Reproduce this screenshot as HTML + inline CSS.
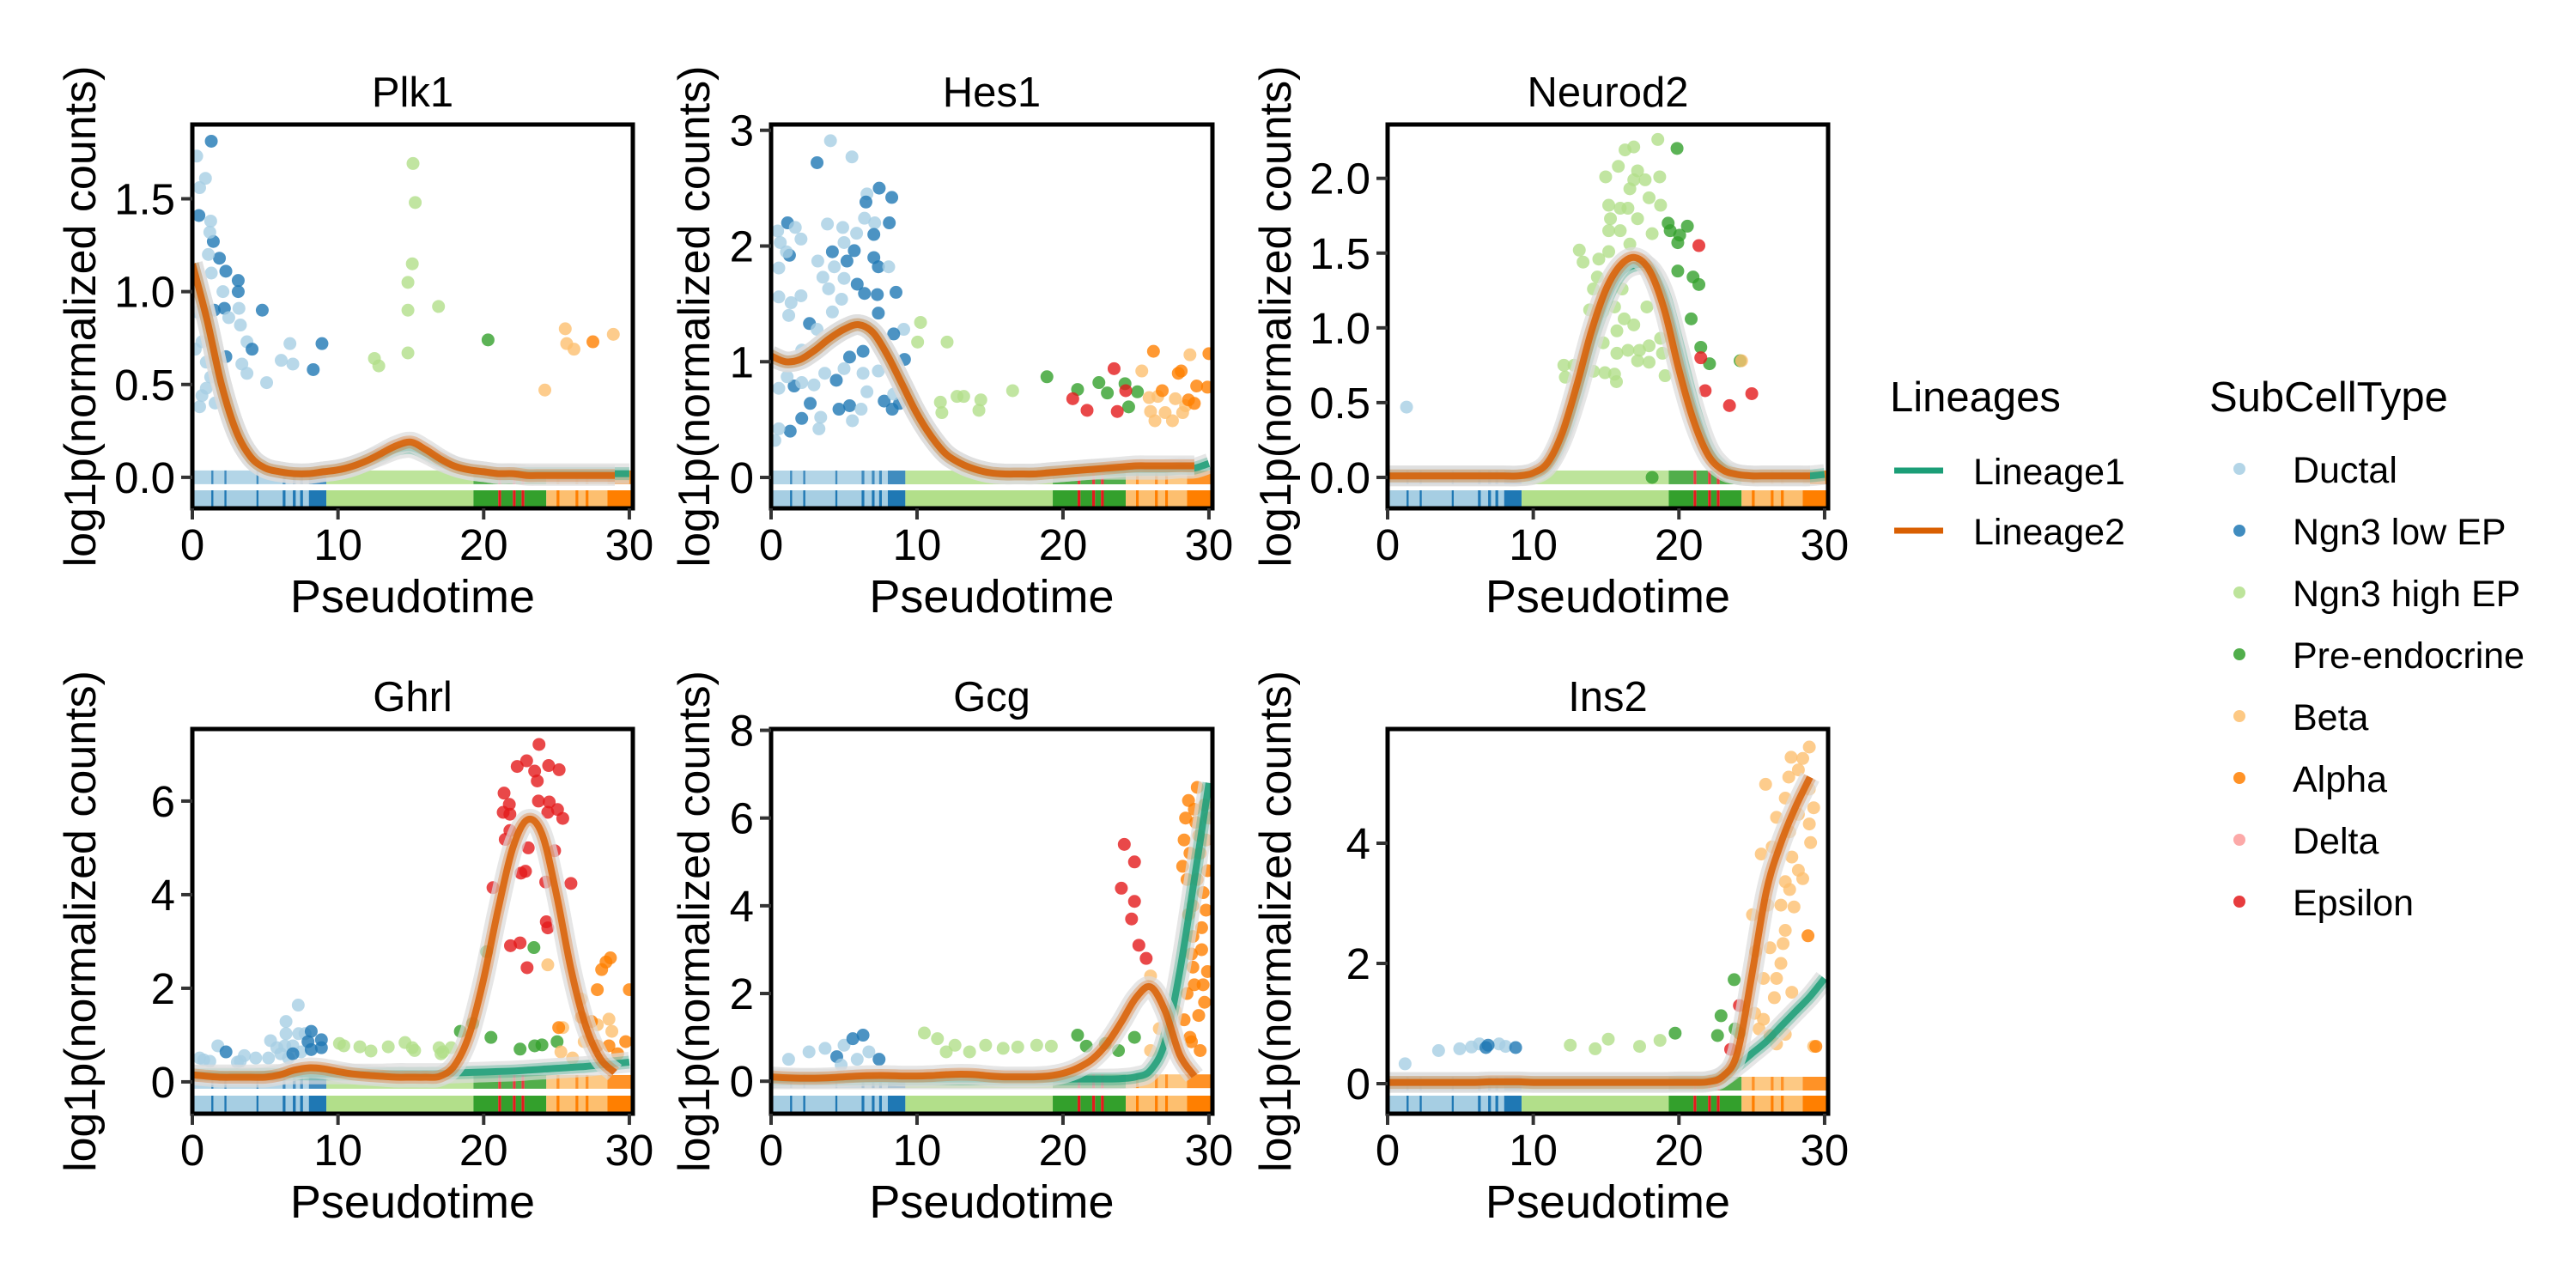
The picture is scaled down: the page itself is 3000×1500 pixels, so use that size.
<!DOCTYPE html>
<html><head><meta charset="utf-8"><style>
html,body{margin:0;padding:0;background:#fff;}
svg{display:block;font-family:"Liberation Sans",Arial,sans-serif;}
</style></head><body>
<svg id="chart" width="3000" height="1500" viewBox="0 0 3000 1500" xmlns="http://www.w3.org/2000/svg">
<rect x="0" y="0" width="3000" height="1500" fill="#fff"/>
<g id="panels"></g>
<g id="legend">
  <text x="2201" y="479" font-size="49">Lineages</text>
  <line x1="2206" x2="2263" y1="548" y2="548" stroke="#1b9e77" stroke-width="7"/>
  <text x="2298" y="564" font-size="43">Lineage1</text>
  <line x1="2206" x2="2263" y1="618" y2="618" stroke="#d95f02" stroke-width="7"/>
  <text x="2298" y="634" font-size="43">Lineage2</text>
  <text x="2573" y="479" font-size="49">SubCellType</text>
  <g id="typeLegend"></g>
</g>
</svg>
<script>
const typeNames = ["Ductal","Ngn3 low EP","Ngn3 high EP","Pre-endocrine","Beta","Alpha","Delta","Epsilon"];
const typeColors = ["#a6cee3","#1f78b4","#b2df8a","#33a02c","#fdbf6f","#ff7f00","#fb9a99","#e31a1c"];
const xTicks = [0,10,20,30];
const curveT = [0,1,2,3,4,5,6,7,8,9,10,11,12,13,14,15,16,17,18,19,20,21,22,23,24,25,26,27,28,29,30];
// cell rug segments: [start, end, typeIndex]
const rugSegments = [[0,1.3,0],[1.3,1.45,1],[1.45,2.2,0],[2.2,2.35,1],[2.35,4.4,0],[4.4,4.55,1],[4.55,6.2,0],[6.2,6.4,1],[6.4,6.9,0],[6.9,7.1,1],[7.1,7.4,0],[7.4,7.6,1],[7.6,8.0,0],[8.0,9.2,1],[9.2,19.3,2],[19.3,21.0,3],[21.0,21.2,7],[21.2,22.0,3],[22.0,22.2,7],[22.2,22.6,3],[22.6,22.8,7],[22.8,24.3,3],[24.3,25.0,4],[25.0,25.2,5],[25.2,26.3,4],[26.3,26.5,5],[26.5,27.0,4],[27.0,27.2,5],[27.2,28.5,4],[28.5,30.3,5]];

// ---- Plk1
const plk1Ticks = [0,0.5,1,1.5];
const plk1TickLabels = ["0.0","0.5","1.0","1.5"];
const plk1L1 = [1.15,0.85,0.5,0.25,0.11,0.05,0.03,0.02,0.02,0.03,0.04,0.06,0.09,0.12,0.15,0.16,0.13,0.09,0.06,0.04,0.03,0.02,0.02,0.02,0.02,0.02,0.02,0.02,0.02,0.02,0.02];
const plk1L2 = [1.15,0.85,0.5,0.25,0.11,0.05,0.03,0.02,0.02,0.03,0.04,0.06,0.09,0.13,0.17,0.19,0.15,0.1,0.06,0.04,0.03,0.02,0.02,0.01,0.01,0.01,0.01,0.01,0.01,0.01,0.01];
const plk1Pts = [[1.3,1.81,1],[0.3,1.73,0],[0.9,1.61,0],[0.5,1.56,0],[0.45,1.41,1],[1.26,1.38,0],[1.44,1.27,1],[1.2,1.32,0],[1.86,1.18,1],[1.1,1.2,0],[2.3,1.11,1],[1.3,1.1,0],[3.15,1.06,1],[3.15,1.0,1],[2.1,1.0,0],[1.5,0.9,1],[2.2,0.91,1],[3.2,0.91,0],[4.8,0.9,1],[2.5,0.86,0],[3.3,0.82,0],[3.75,0.73,0],[4.1,0.69,1],[6.7,0.72,0],[8.9,0.72,1],[2.3,0.65,1],[6.1,0.63,0],[6.9,0.61,0],[3.4,0.61,0],[3.75,0.56,0],[5.1,0.51,0],[8.3,0.58,1],[0.66,0.44,0],[0.96,0.48,0],[1.56,0.4,0],[0.5,0.38,0],[0.2,0.69,0],[0.66,0.73,0],[0.36,0.89,0],[0.96,0.62,0],[1.86,0.52,0],[1.26,0.54,0],[15.15,1.69,2],[15.3,1.48,2],[15.1,1.15,2],[14.8,1.05,2],[14.8,0.9,2],[16.9,0.92,2],[14.8,0.67,2],[12.5,0.64,2],[12.8,0.6,2],[20.3,0.74,3],[25.6,0.8,4],[25.7,0.72,4],[26.2,0.69,4],[28.9,0.77,4],[24.2,0.47,4],[27.5,0.73,5]];

// ---- Hes1
const hes1Ticks = [0,1,2,3];
const hes1TickLabels = ["0","1","2","3"];
const hes1L1 = [1.05,1.0,1.02,1.1,1.2,1.28,1.32,1.25,1.05,0.8,0.55,0.35,0.2,0.12,0.07,0.04,0.03,0.03,0.03,0.04,0.05,0.06,0.07,0.07,0.07,0.07,0.07,0.07,0.08,0.08,0.12];
const hes1L2 = [1.05,1.0,1.02,1.1,1.2,1.28,1.32,1.25,1.05,0.8,0.55,0.35,0.2,0.12,0.07,0.04,0.03,0.03,0.03,0.04,0.05,0.06,0.07,0.08,0.09,0.1,0.1,0.1,0.1,0.1,0.1];
const hes1Pts = [[4.07,2.91,0],[5.54,2.77,0],[3.15,2.72,1],[7.41,2.5,1],[8.27,2.42,1],[6.57,2.45,0],[6.5,2.38,1],[1.13,2.2,1],[1.66,2.16,0],[0.45,2.13,0],[2.05,2.06,0],[0.63,2.03,0],[1.26,1.92,1],[1.05,1.95,0],[8.1,2.2,1],[6.4,2.24,0],[7.1,2.2,0],[3.86,2.19,0],[4.91,2.16,0],[5.86,2.11,0],[7.04,2.1,1],[5.0,2.03,0],[4.2,1.95,1],[3.2,1.87,0],[4.33,1.82,0],[5.7,1.96,1],[7.04,1.9,1],[7.35,1.82,1],[8.06,1.82,0],[5.2,1.87,1],[0.53,1.81,0],[3.55,1.73,0],[5.0,1.72,0],[5.9,1.67,1],[8.56,1.6,1],[7.28,1.58,1],[6.4,1.59,1],[3.94,1.63,0],[2.05,1.57,0],[0.53,1.56,0],[1.37,1.51,0],[4.83,1.54,0],[1.21,1.4,0],[4.2,1.43,0],[2.63,1.33,1],[7.35,1.42,1],[9.09,1.28,0],[8.4,1.24,1],[9.14,1.02,1],[3.15,1.28,0],[6.3,1.09,1],[5.38,1.04,1],[2.1,1.1,0],[4.47,0.84,1],[1.58,0.79,1],[0.53,0.77,0],[1.1,0.87,0],[2.1,0.82,0],[2.94,0.8,0],[3.68,0.9,0],[5.0,0.94,0],[6.3,0.9,0],[7.35,0.92,0],[6.57,0.74,0],[2.68,0.64,1],[4.65,0.59,1],[5.38,0.62,1],[6.17,0.59,0],[7.75,0.66,1],[8.3,0.59,1],[8.8,0.64,1],[2.1,0.51,1],[1.31,0.4,1],[0.53,0.42,0],[3.28,0.42,0],[5.57,0.49,0],[0.26,0.32,0],[3.4,0.52,0],[8.4,0.72,0],[10.24,1.34,2],[10.04,1.17,2],[12.06,1.17,2],[16.55,0.75,2],[12.74,0.7,2],[13.2,0.7,2],[11.6,0.65,2],[11.7,0.56,2],[14.37,0.67,2],[14.24,0.58,2],[18.9,0.87,3],[21.0,0.76,3],[22.46,0.82,3],[23.04,0.73,3],[24.25,0.81,3],[25.1,0.74,3],[24.5,0.61,3],[23.5,0.94,7],[20.67,0.68,7],[21.65,0.58,7],[23.72,0.57,7],[24.3,0.75,7],[25.4,0.92,4],[28.7,1.06,4],[25.9,0.69,4],[26.5,0.7,4],[26.3,0.49,4],[27.0,0.56,4],[27.5,0.49,4],[28.2,0.56,4],[27.7,0.68,4],[26.0,0.57,4],[28.4,0.62,4],[26.2,1.09,5],[27.9,0.9,5],[28.1,0.92,5],[26.8,0.75,5],[29.16,0.79,5],[29.9,0.78,5],[30.0,1.07,5],[28.6,0.67,5],[29.0,0.64,5]];

// ---- Neurod2
const neurod2Ticks = [0,0.5,1,1.5,2];
const neurod2TickLabels = ["0.0","0.5","1.0","1.5","2.0"];
const neurod2L1 = [0.01,0.01,0.01,0.01,0.01,0.01,0.01,0.01,0.01,0.01,0.02,0.08,0.26,0.55,0.9,1.18,1.36,1.42,1.4,1.22,0.86,0.48,0.2,0.07,0.02,0.01,0.01,0.01,0.01,0.01,0.02];
const neurod2L2 = [0.01,0.01,0.01,0.01,0.01,0.01,0.01,0.01,0.01,0.01,0.03,0.1,0.3,0.62,0.98,1.26,1.42,1.47,1.38,1.12,0.72,0.38,0.15,0.05,0.02,0.01,0.01,0.01,0.01,0.01,0.01];
const neurod2Pts = [[18.55,2.26,2],[16.3,2.19,2],[16.9,2.21,2],[15.84,2.08,2],[14.97,2.01,2],[17.16,2.05,2],[18.68,2.01,2],[17.68,1.99,2],[16.63,1.93,2],[16.9,1.99,2],[17.95,1.87,2],[18.74,1.82,2],[15.18,1.82,2],[15.97,1.8,2],[16.5,1.8,2],[15.3,1.73,2],[17.16,1.73,2],[15.18,1.65,2],[15.97,1.65,2],[18.16,1.63,2],[13.16,1.52,2],[13.42,1.44,2],[15.18,1.51,2],[14.5,1.46,2],[16.63,1.56,2],[14.4,1.34,2],[14.13,1.26,2],[16.1,1.26,2],[13.87,1.12,2],[14.8,1.11,2],[15.58,1.14,2],[16.24,1.06,2],[16.9,1.02,2],[17.8,1.14,2],[15.74,0.98,2],[14.8,0.9,2],[15.74,0.83,2],[16.5,0.85,2],[17.29,0.85,2],[17.95,0.88,2],[18.74,0.93,2],[18.87,0.83,2],[17.16,0.78,2],[17.95,0.77,2],[12.1,0.75,2],[12.8,0.75,2],[12.2,0.67,2],[14.13,0.71,2],[14.92,0.7,2],[15.58,0.69,2],[15.71,0.64,2],[19.05,0.68,2],[1.3,0.47,0],[19.87,2.2,3],[19.26,1.7,3],[19.4,1.65,3],[20.58,1.68,3],[19.92,1.57,3],[20.05,1.62,3],[19.92,1.38,3],[20.97,1.34,3],[21.37,1.29,3],[20.84,1.06,3],[21.5,0.87,3],[22.1,0.76,3],[18.16,0.0,3],[21.37,1.55,7],[21.5,0.8,7],[23.47,0.48,7],[25.0,0.56,7],[21.8,0.58,7],[24.2,0.78,3],[24.3,0.78,4]];

// ---- Ghrl
const ghrlTicks = [0,2,4,6];
const ghrlTickLabels = ["0","2","4","6"];
const ghrlL1 = [0.15,0.15,0.15,0.15,0.15,0.16,0.16,0.17,0.17,0.17,0.17,0.17,0.17,0.17,0.18,0.18,0.18,0.18,0.19,0.2,0.21,0.22,0.23,0.25,0.27,0.29,0.31,0.33,0.36,0.39,0.42];
const ghrlL2 = [0.15,0.12,0.1,0.1,0.1,0.1,0.15,0.25,0.3,0.28,0.22,0.17,0.14,0.12,0.1,0.1,0.1,0.12,0.35,1.0,2.2,3.7,5.0,5.6,5.3,4.0,2.4,1.2,0.5,0.2,0.1];
const ghrlPts = [[23.8,7.21,7],[22.3,6.74,7],[22.95,6.86,7],[23.5,6.64,7],[24.46,6.76,7],[25.18,6.67,7],[23.68,6.43,7],[21.4,6.17,7],[21.76,5.93,7],[21.34,5.76,7],[21.8,5.72,7],[24.5,5.98,7],[23.76,6.0,7],[24.4,5.76,7],[25.07,5.82,7],[25.43,5.63,7],[24.87,4.94,7],[23.06,5.0,7],[21.48,5.18,7],[21.8,5.37,7],[22.87,4.5,7],[22.56,4.46,7],[24.26,4.27,7],[25.99,4.24,7],[20.64,4.15,7],[24.3,3.42,7],[24.4,3.29,7],[21.84,2.91,7],[22.5,2.97,7],[22.98,2.44,7],[23.45,2.87,3],[20.2,2.78,3],[19.25,1.25,3],[18.4,1.08,3],[20.5,0.95,3],[22.5,0.7,3],[23.5,0.77,3],[24.0,0.79,3],[25.04,0.86,3],[24.4,2.5,4],[26.7,1.77,4],[25.43,1.16,4],[28.6,1.34,4],[27.8,1.22,4],[28.8,1.08,4],[26.9,0.86,4],[25.3,0.64,4],[26.1,0.51,4],[28.7,2.65,5],[28.4,2.56,5],[28.1,2.4,5],[27.8,1.97,5],[30.0,1.97,5],[25.15,1.16,5],[27.4,1.29,5],[26.7,1.38,5],[27.8,0.77,5],[29.75,0.86,5],[28.6,0.77,5],[29.2,0.6,5],[7.27,1.64,0],[6.43,1.29,0],[6.43,1.03,0],[7.3,1.03,0],[7.74,1.03,0],[1.75,0.77,0],[5.37,0.88,0],[3.57,0.56,0],[4.35,0.51,0],[5.8,0.73,0],[6.35,0.77,0],[6.9,0.77,0],[7.46,0.64,0],[6.07,0.6,0],[5.23,0.51,0],[0.5,0.51,0],[0.78,0.47,0],[1.2,0.44,0],[3.29,0.44,0],[3.09,0.42,0],[6.6,0.51,0],[8.16,1.08,1],[8.86,0.9,1],[7.94,0.86,1],[8.86,0.73,1],[2.31,0.64,1],[8.16,0.69,1],[6.9,0.6,1],[10.1,0.82,2],[10.4,0.77,2],[11.5,0.75,2],[12.26,0.66,2],[13.45,0.75,2],[14.6,0.84,2],[15.1,0.73,2],[15.26,0.67,2],[16.94,0.73,2],[17.2,0.64,2],[17.77,0.73,2],[17.07,0.6,2]];

// ---- Gcg
const gcgTicks = [0,2,4,6,8];
const gcgTickLabels = ["0","2","4","6","8"];
const gcgL1 = [0.05,0.05,0.05,0.05,0.05,0.05,0.05,0.05,0.05,0.05,0.05,0.05,0.05,0.05,0.05,0.05,0.05,0.05,0.05,0.05,0.05,0.05,0.05,0.05,0.06,0.1,0.25,0.9,2.5,4.6,6.8];
const gcgL2 = [0.1,0.08,0.07,0.07,0.08,0.1,0.12,0.13,0.13,0.12,0.12,0.13,0.15,0.16,0.15,0.12,0.1,0.1,0.1,0.12,0.18,0.3,0.5,0.85,1.35,1.9,2.15,1.6,0.6,0.12,0.05];
const gcgPts = [[24.2,5.4,7],[24.9,5.0,7],[24.0,4.4,7],[24.9,4.1,7],[24.7,3.7,7],[25.2,3.1,7],[25.7,2.8,7],[28.6,6.4,5],[29.1,5.9,5],[29.4,5.2,5],[28.5,4.6,5],[28.9,4.0,5],[29.5,3.5,5],[28.8,2.9,5],[29.7,6.3,5],[28.3,5.5,5],[29.9,4.8,5],[29.0,2.2,5],[29.7,1.8,5],[28.3,1.4,5],[29.9,2.5,5],[29.4,0.7,5],[28.7,1.0,5],[29.2,6.7,5],[28.9,3.3,5],[29.6,4.3,5],[28.4,6.0,5],[29.0,6.2,5],[29.3,5.6,5],[28.7,5.2,5],[29.8,5.5,5],[28.6,3.8,5],[29.2,4.6,5],[29.5,3.0,5],[28.9,2.6,5],[29.8,3.9,5],[28.5,2.0,5],[29.3,1.5,5],[30.0,6.0,5],[28.2,4.9,5],[29.6,2.2,5],[28.8,0.9,5],[26.0,2.4,4],[26.6,1.2,4],[27.7,1.6,4],[27.1,0.9,4],[26.0,0.7,4],[21.0,1.05,3],[21.6,0.8,3],[22.9,0.86,3],[23.8,0.7,3],[24.9,1.0,3],[10.5,1.1,2],[11.4,0.97,2],[12.6,0.82,2],[13.6,0.67,2],[14.7,0.82,2],[15.9,0.75,2],[16.9,0.78,2],[18.2,0.82,2],[19.2,0.8,2],[12.0,0.67,2],[1.2,0.5,0],[2.6,0.67,0],[3.7,0.75,0],[4.5,0.56,1],[5.0,0.82,0],[5.6,0.97,1],[6.3,1.05,1],[6.7,0.67,0],[7.4,0.5,1],[5.9,0.5,0],[4.8,0.37,0]];

// ---- Ins2
const ins2Ticks = [0,2,4];
const ins2TickLabels = ["0","2","4"];
const ins2L1 = [0.02,0.02,0.02,0.02,0.02,0.02,0.02,0.02,0.02,0.02,0.02,0.02,0.02,0.02,0.02,0.02,0.02,0.02,0.02,0.02,0.03,0.03,0.04,0.12,0.3,0.5,0.7,0.95,1.2,1.45,1.75];
const ins2L2 = [0.02,0.02,0.02,0.02,0.02,0.02,0.02,0.03,0.03,0.03,0.02,0.02,0.02,0.02,0.02,0.02,0.02,0.02,0.02,0.02,0.02,0.02,0.03,0.12,0.5,1.8,3.2,4.0,4.6,5.1,5.3];
const ins2Pts = [[28.95,5.6,4],[27.7,5.43,4],[28.5,5.41,4],[25.95,4.98,4],[28.2,5.22,4],[27.54,5.1,4],[28.95,4.9,4],[27.3,4.75,4],[29.25,4.59,4],[26.7,4.43,4],[28.2,4.48,4],[28.95,4.32,4],[27.6,4.19,4],[29.04,4.01,4],[25.65,3.82,4],[26.4,3.94,4],[27.75,3.77,4],[28.2,3.55,4],[28.5,3.41,4],[27.3,3.36,4],[27.6,3.23,4],[27.0,2.97,4],[27.9,2.94,4],[26.1,2.97,4],[25.05,2.81,4],[27.3,2.55,4],[27.15,2.33,4],[26.25,2.26,4],[25.26,2.2,4],[27.0,2.0,4],[25.8,1.75,4],[26.7,1.75,4],[27.75,1.52,4],[26.55,1.43,4],[25.2,1.17,4],[25.8,1.07,4],[25.5,0.91,4],[26.7,0.66,4],[29.25,0.62,4],[27.3,0.82,4],[28.86,2.46,5],[26.25,0.8,5],[29.4,0.62,5],[23.79,1.73,3],[22.89,1.13,3],[23.85,0.91,3],[22.65,0.8,3],[24.15,0.84,3],[19.74,0.84,3],[24.15,1.3,7],[23.55,0.57,7],[12.54,0.64,2],[14.25,0.58,2],[15.15,0.74,2],[17.3,0.62,2],[18.7,0.72,2],[1.2,0.33,0],[3.5,0.55,0],[4.95,0.58,0],[5.76,0.61,0],[6.3,0.66,0],[7.65,0.66,0],[8.1,0.62,0],[6.75,0.6,1],[6.9,0.64,1],[8.79,0.6,1]];

const panels = [
 {name:"Plk1", left:224,right:737,top:145,bottom:592,ymin:-0.167,ymax:1.9,ticks:plk1Ticks,labels:plk1TickLabels,l1:plk1L1,l2:plk1L2,pts:plk1Pts,ytx:93},
 {name:"Hes1", left:898,right:1412,top:145,bottom:592,ymin:-0.267,ymax:3.05,ticks:hes1Ticks,labels:hes1TickLabels,l1:hes1L1,l2:hes1L2,pts:hes1Pts,ytx:808},
 {name:"Neurod2", left:1616,right:2129,top:145,bottom:592,ymin:-0.207,ymax:2.36,ticks:neurod2Ticks,labels:neurod2TickLabels,l1:neurod2L1,l2:neurod2L2,pts:neurod2Pts,ytx:1485},
 {name:"Ghrl", left:224,right:737,top:849,bottom:1297,ymin:-0.68,ymax:7.54,ticks:ghrlTicks,labels:ghrlTickLabels,l1:ghrlL1,l2:ghrlL2,pts:ghrlPts,ytx:93},
 {name:"Gcg", left:898,right:1412,top:849,bottom:1297,ymin:-0.74,ymax:8.03,ticks:gcgTicks,labels:gcgTickLabels,l1:gcgL1,l2:gcgL2,pts:gcgPts,ytx:808},
 {name:"Ins2", left:1616,right:2129,top:849,bottom:1297,ymin:-0.5,ymax:5.9,ticks:ins2Ticks,labels:ins2TickLabels,l1:ins2L1,l2:ins2L2,pts:ins2Pts,ytx:1485}
];
const XMAX = 30.24;
const NS = "http://www.w3.org/2000/svg";
function mk(tag, attrs, parent){const e=document.createElementNS(NS,tag);for(const k in attrs)e.setAttribute(k,attrs[k]);if(parent)parent.appendChild(e);return e;}
function smoothPath(pts){
  let d="M"+pts[0][0].toFixed(1)+","+pts[0][1].toFixed(1);
  for(let i=0;i<pts.length-1;i++){
    const p0=pts[Math.max(0,i-1)],p1=pts[i],p2=pts[i+1],p3=pts[Math.min(pts.length-1,i+2)];
    const c1x=p1[0]+(p2[0]-p0[0])/6,c1y=p1[1]+(p2[1]-p0[1])/6;
    const c2x=p2[0]-(p3[0]-p1[0])/6,c2y=p2[1]-(p3[1]-p1[1])/6;
    d+=" C"+c1x.toFixed(1)+","+c1y.toFixed(1)+" "+c2x.toFixed(1)+","+c2y.toFixed(1)+" "+p2[0].toFixed(1)+","+p2[1].toFixed(1);
  }
  return d;
}
const root=document.getElementById("panels");
panels.forEach((p,pi)=>{
  const key=p.name.toLowerCase();
  const g=mk("g",{},root);
  
  
  const xs=t=>p.left+(t/XMAX)*(p.right-p.left);
  const ys=v=>p.bottom-(v-p.ymin)/(p.ymax-p.ymin)*(p.bottom-p.top);
  const cid="clip"+pi;
  const cp=mk("clipPath",{id:cid},g);
  mk("rect",{x:p.left,y:p.top,width:p.right-p.left,height:p.bottom-p.top},cp);
  const plot=mk("g",{"clip-path":"url(#"+cid+")"},g);
  rugSegments.forEach(s=>{
    const r=mk("rect",{x:xs(s[0]),y:p.bottom-21,width:Math.max(1,xs(s[1])-xs(s[0])),height:21,fill:typeColors[s[2]]},plot);
    
    
    const z=mk("rect",{x:xs(s[0]),y:ys(0)-8,width:Math.max(1,xs(s[1])-xs(s[0])),height:16,fill:typeColors[s[2]],opacity:0.85},plot);
    
    
  });
  p.pts.forEach(q=>{
    const c=mk("circle",{cx:xs(q[0]),cy:ys(q[1]),r:7.5,fill:typeColors[q[2]],"fill-opacity":0.8},plot);
    
    
  });
  [[p.l1,"#1b9e77","lineage1",31],[p.l2,"#d95f02","lineage2",30]].forEach(L=>{
    const pts=curveT.slice(0,L[3]).map((t,i)=>[xs(t),ys(L[0][i])]);
    const d=smoothPath(pts);
    mk("path",{d:d,fill:"none",stroke:"#dcdcdc","stroke-width":24,"stroke-opacity":0.7},plot);
    mk("path",{d:d,fill:"none",stroke:L[1],"stroke-width":15,"stroke-opacity":0.3},plot);
    const ln=mk("path",{d:d,fill:"none",stroke:L[1],"stroke-width":8,"stroke-opacity":0.85},plot);
    
    
  });
  const fr=mk("rect",{x:p.left,y:p.top,width:p.right-p.left,height:p.bottom-p.top,fill:"none",stroke:"#000","stroke-width":5},g);
  
  
  p.ticks.forEach((v,i)=>{
    mk("line",{x1:p.left-13,x2:p.left,y1:ys(v),y2:ys(v),stroke:"#333","stroke-width":4},g);
    const t=mk("text",{x:p.left-20,y:ys(v)+18,"font-size":51,"text-anchor":"end"},g);
    t.textContent=p.labels[i];
    
    
  });
  xTicks.forEach(v=>{
    mk("line",{x1:xs(v),x2:xs(v),y1:p.bottom,y2:p.bottom+13,stroke:"#333","stroke-width":4},g);
    const t=mk("text",{x:xs(v),y:p.bottom+60,"font-size":51,"text-anchor":"middle"},g);
    t.textContent=String(v);
    
    
  });
  const cx=(p.left+p.right)/2;
  const title=mk("text",{x:cx,y:p.top-21,"font-size":49,"text-anchor":"middle"},g);
  title.textContent=p.name;
  
  
  const xt=mk("text",{x:cx,y:p.bottom+121,"font-size":54,"text-anchor":"middle"},g);
  xt.textContent="Pseudotime";
  
  
  const cy=(p.top+p.bottom)/2;
  const yt=mk("text",{x:p.ytx+18,y:cy,"font-size":52,"text-anchor":"middle",transform:"rotate(-90 "+(p.ytx+18)+" "+cy+")"},g);
  yt.textContent="log1p(normalized counts)";
  
  
});
const tl=document.getElementById("typeLegend");
typeNames.forEach((n,i)=>{
  const y=546+72*i;
  const c=mk("circle",{cx:2608,cy:y,r:7,fill:typeColors[i],"fill-opacity":0.85},tl);
  
  
  const t=mk("text",{x:2670,y:y+16,"font-size":43},tl);
  t.textContent=n;
  
  
});
</script>
</body></html>
